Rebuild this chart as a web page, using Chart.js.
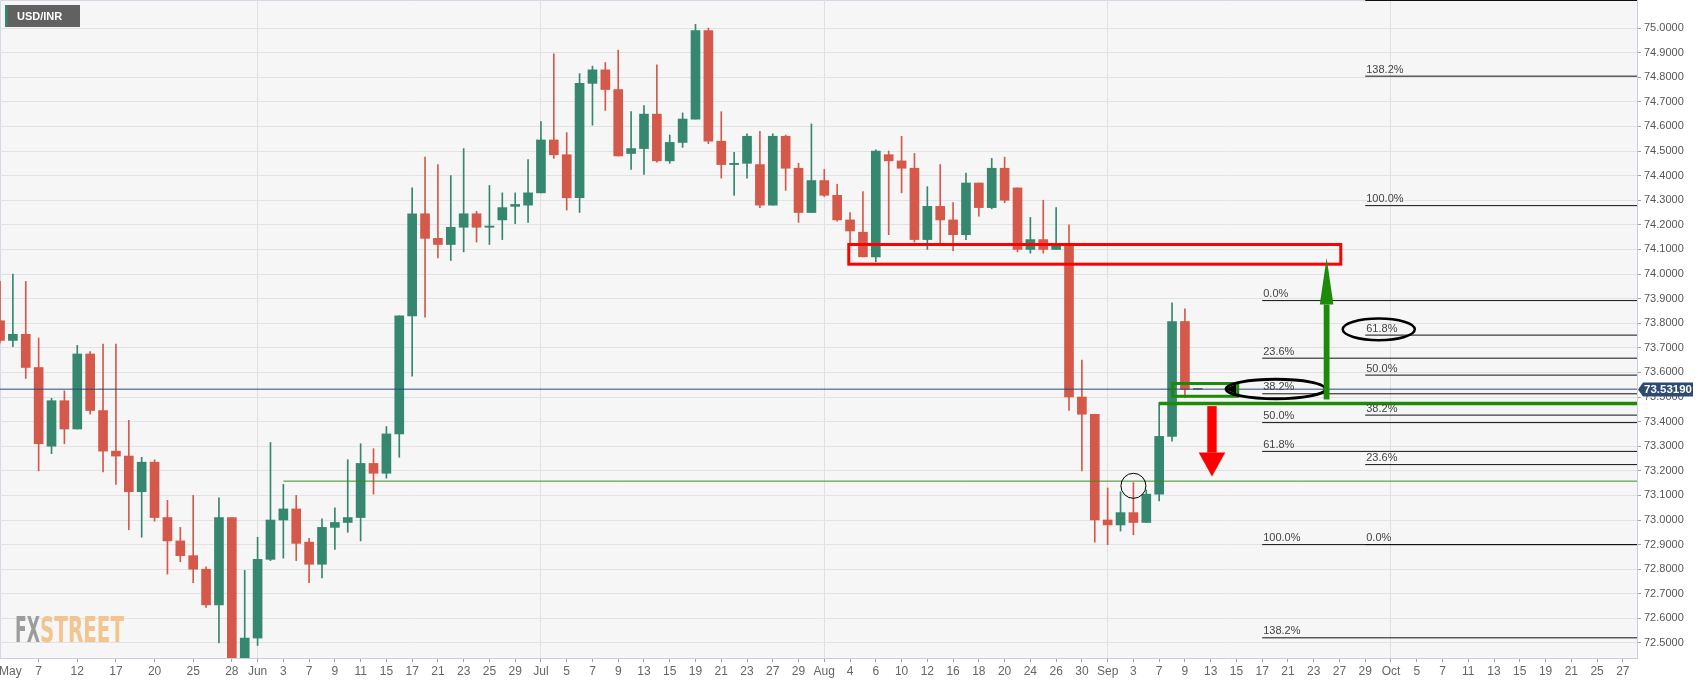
<!DOCTYPE html>
<html>
<head>
<meta charset="utf-8">
<script src="https://cdn.jsdelivr.net/npm/chart.js@4.4.1/dist/chart.umd.min.js"></script>
<style>
    html, body { margin: 0; padding: 0; background: #ffffff; }
    #wrap { position: relative; width: 1707px; height: 687px; }
</style>
</head>
<body>
<div id="wrap"><canvas id="mainChart" width="1707" height="687"></canvas></div>
<script>
// USD/INR daily candles, one per weekday starting 2021-05-04
const firstDay = '2021-05-03';
const lastDay = '2021-10-29';
const candleStart = '2021-05-04';

const opens = [73.81, 73.73, 73.755, 73.62, 73.30, 73.485, 73.37, 73.675, 73.445, 73.28,
    73.26, 73.115, 73.235, 73.01, 72.915, 72.855, 72.80, 72.655, 73.01, 72.41,
    72.52, 72.84, 73.00, 73.045, 72.91, 72.82, 72.97, 72.99, 73.01, 73.23,
    73.19, 73.35, 73.83, 74.245, 74.145, 74.12, 74.19, 74.245, 74.19, 74.22,
    74.275, 74.28, 74.33, 74.545, 74.485, 74.31, 74.775, 74.83, 74.75, 74.49,
    74.51, 74.65, 74.46, 74.535, 74.63, 74.99, 74.54, 74.445, 74.45, 74.445,
    74.28, 74.56, 74.43, 74.25, 74.38, 74.32, 74.22, 74.17, 74.07, 74.485,
    74.46, 74.43, 74.14, 74.275, 74.22, 74.16, 74.37, 74.27, 74.43, 74.35,
    74.10, 74.14, 74.10, 74.125, 73.50, 73.43, 73.00, 72.98, 73.03, 72.99,
    73.105, 73.34, 73.807, 73.531];
const highs = [73.97, 74.00, 73.97, 73.74, 73.495, 73.525, 73.71, 73.685, 73.715, 73.715,
    73.405, 73.255, 73.245, 73.08, 72.97, 73.10, 72.81, 73.09, 73.01, 72.795,
    72.93, 73.315, 73.145, 73.10, 72.925, 73.005, 73.05, 73.245, 73.31, 73.29,
    73.38, 73.83, 74.35, 74.475, 74.445, 74.40, 74.51, 74.255, 74.36, 74.33,
    74.33, 74.465, 74.62, 74.895, 74.575, 74.815, 74.845, 74.86, 74.91, 74.66,
    74.685, 74.85, 74.565, 74.655, 75.015, 75.00, 74.66, 74.495, 74.57, 74.58,
    74.57, 74.565, 74.45, 74.61, 74.425, 74.365, 74.25, 74.335, 74.505, 74.50,
    74.56, 74.49, 74.355, 74.445, 74.29, 74.41, 74.37, 74.47, 74.475, 74.35,
    74.23, 74.30, 74.27, 74.20, 73.65, 73.43, 73.13, 73.115, 73.152, 73.122,
    73.477, 73.883, 73.859, 73.534];
const lows = [73.72, 73.705, 73.575, 73.20, 73.27, 73.31, 73.37, 73.43, 73.195, 73.145,
    72.96, 72.93, 72.995, 72.78, 72.83, 72.745, 72.645, 72.50, 72.38, 72.38,
    72.49, 72.835, 72.845, 72.835, 72.745, 72.765, 72.88, 72.95, 72.915, 73.105,
    73.17, 73.255, 73.585, 73.825, 74.065, 74.055, 74.09, 74.13, 74.12, 74.14,
    74.205, 74.21, 74.33, 74.47, 74.26, 74.25, 74.605, 74.665, 74.48, 74.425,
    74.405, 74.455, 74.45, 74.515, 74.63, 74.53, 74.39, 74.32, 74.39, 74.27,
    74.28, 74.34, 74.21, 74.25, 74.315, 74.215, 74.12, 74.07, 74.05, 74.16,
    74.33, 74.13, 74.10, 74.125, 74.095, 74.14, 74.235, 74.265, 74.29, 74.09,
    74.085, 74.085, 74.10, 73.445, 73.20, 72.91, 72.90, 72.955, 72.94, 72.99,
    73.078, 73.32, 73.497, 73.530];
const closes = [73.73, 73.755, 73.62, 73.31, 73.485, 73.37, 73.675, 73.445, 73.28, 73.26,
    73.115, 73.235, 73.01, 72.915, 72.855, 72.80, 72.655, 73.01, 72.41, 72.52,
    72.84, 73.00, 73.045, 72.905, 72.82, 72.97, 72.99, 73.01, 73.23, 73.19,
    73.35, 73.83, 74.245, 74.145, 74.12, 74.19, 74.245, 74.19, 74.195, 74.27,
    74.283, 74.33, 74.545, 74.485, 74.31, 74.775, 74.83, 74.75, 74.48, 74.51,
    74.65, 74.46, 74.535, 74.63, 74.99, 74.54, 74.445, 74.45, 74.56, 74.28,
    74.56, 74.43, 74.25, 74.38, 74.32, 74.22, 74.175, 74.07, 74.50, 74.46,
    74.43, 74.14, 74.275, 74.22, 74.16, 74.37, 74.27, 74.43, 74.30, 74.10,
    74.14, 74.10, 74.125, 73.50, 73.43, 73.00, 72.98, 73.03, 72.99, 73.105,
    73.34, 73.807, 73.531, 73.532];

// labelled days on the time axis
const tickDays = ['05-03', '05-07', '05-12', '05-17', '05-20', '05-25', '05-28',
    '06-01', '06-03', '06-07', '06-09', '06-11', '06-15', '06-17', '06-21', '06-23', '06-25', '06-29',
    '07-01', '07-05', '07-07', '07-09', '07-13', '07-15', '07-19', '07-21', '07-23', '07-27', '07-29',
    '08-02', '08-04', '08-06', '08-10', '08-12', '08-16', '08-18', '08-20', '08-24', '08-26', '08-30',
    '09-01', '09-03', '09-07', '09-09', '09-13', '09-15', '09-17', '09-21', '09-23', '09-27', '09-29',
    '10-01', '10-05', '10-07', '10-11', '10-13', '10-15', '10-19', '10-21', '10-25', '10-27'];
const monthNames = ['Jan', 'Feb', 'Mar', 'Apr', 'May', 'Jun', 'Jul', 'Aug', 'Sep', 'Oct', 'Nov', 'Dec'];
const priceTicks = Array.from({ length: 26 }, (_, i) => +(72.5 + i * 0.1).toFixed(1));

const lastPrice = 73.5319;

// drawn studies
const supportLine = ['2021-06-03', 73.158];
const breakLine = ['2021-09-07', 73.474];
const resistZone = ['2021-08-04', -0.1, '2021-09-27', 0.1, 74.04, 74.12];
const flagBox = ['2021-09-08', 0.05, '2021-09-15', 0.1, 73.503, 73.555];
const fibLevels = [0, 23.6, 38.2, 50, 61.8, 100, 138.2, 161.8];
const fibDown = ['2021-09-17', 73.892, 72.90];   // 0% at first price
const fibUp = ['2021-09-29', 72.90, 74.278];
const downArrow = ['2021-09-13', 0.1, 73.463, 73.274, 73.177];
const upArrow = ['2021-09-24', 0, 73.49, 73.876, 74.066];
const ringMark = ['2021-09-03', 73.139];
const ovalA = ['2021-09-14', 0.2, '2021-09-24', -0.1, 73.493, 73.572];
const ovalB = ['2021-09-27', 0.25, '2021-10-01', 1.85, 73.731, 73.819];

const upColor = '#35876f';
const downColor = '#d5594a';

// weekday calendar
const days = [];
for (let d = new Date(firstDay + 'T00:00:00Z'); d <= new Date(lastDay + 'T00:00:00Z'); d.setUTCDate(d.getUTCDate() + 1)) {
    const wd = d.getUTCDay();
    if (wd !== 0 && wd !== 6) days.push(d.toISOString().slice(0, 10));
}
const dayIndex = s => days.indexOf(s.length === 5 ? '2021-' + s : s);
const startIdx = dayIndex(candleStart);

const tickText = tickDays.map((d, i) => {
    const m = +d.slice(0, 2);
    if (i === 0 || +tickDays[i - 1].slice(0, 2) !== m) return monthNames[m - 1];
    return String(+d.slice(3));
});

const bodies = opens.map((o, i) => ({ x: startIdx + i, y: [o, closes[i]] }));
const wicks = opens.map((o, i) => ({ x: startIdx + i, y: [lows[i], highs[i]] }));
const candleColors = opens.map((o, i) => closes[i] >= o ? upColor : downColor);

const overlay = {
    id: 'overlay',
    beforeDraw(chart) {
        const { ctx, chartArea: a } = chart;
        ctx.save();
        ctx.fillStyle = '#f6f6f6';
        ctx.fillRect(a.left, a.top, a.right - a.left, a.bottom - a.top);
        ctx.strokeStyle = '#d3d8e6';
        ctx.lineWidth = 1;
        ctx.beginPath();
        ctx.moveTo(a.left + 0.5, a.bottom);
        ctx.lineTo(a.left + 0.5, a.top + 0.5);
        ctx.lineTo(a.right, a.top + 0.5);
        ctx.stroke();
        ctx.restore();
    },
    beforeDatasetsDraw(chart) {
        const { ctx, chartArea: a } = chart;
        ctx.save();
        ctx.textBaseline = 'alphabetic';
        ctx.font = 'bold 36px "Liberation Sans Narrow", "DejaVu Sans Condensed", Arial';
        const base = a.bottom - 16;
        ctx.fillStyle = '#9c9c9c';
        ctx.fillText('FX', a.left + 15, base, 25);
        ctx.fillStyle = '#f2c48e';
        ctx.fillText('STREET', a.left + 40, base, 84);
        ctx.restore();
    },
    afterDatasetsDraw(chart) {
        const { ctx, chartArea: a, scales: { x, y } } = chart;
        const px = (d, s) => x.getPixelForValue(dayIndex(d) + (s || 0));
        ctx.save();
        ctx.beginPath();
        ctx.rect(a.left, a.top, a.right - a.left, a.bottom - a.top);
        ctx.clip();

        const hLine = (x0, v, color, w) => {
            const yy = Math.max(y.getPixelForValue(v), a.top + 0.5);
            ctx.strokeStyle = color;
            ctx.lineWidth = w;
            ctx.beginPath();
            ctx.moveTo(x0, yy);
            ctx.lineTo(a.right, yy);
            ctx.stroke();
            return yy;
        };

        // last price
        hLine(a.left, lastPrice, '#2b4a78', 1);
        // support and breakout lines
        hLine(px(supportLine[0]), supportLine[1], '#3c8c1c', 1);
        hLine(px(breakLine[0]), breakLine[1], '#1e8a0a', 3.5);

        // fibonacci sets
        ctx.font = '11px Arial';
        ctx.textBaseline = 'bottom';
        const drawFib = set => {
            const x0 = px(set[0]);
            fibLevels.forEach(p => {
                const v = set[1] + (set[2] - set[1]) * p / 100;
                const yy = hLine(x0, v, '#111111', 1);
                if (y.getPixelForValue(v) > a.top + 12) {
                    ctx.fillStyle = '#444444';
                    ctx.fillText(p.toFixed(1) + '%', x0 + 1, yy - 1);
                }
            });
        };
        drawFib(fibDown);
        drawFib(fibUp);

        // resistance zone
        ctx.strokeStyle = '#ff0000';
        ctx.lineWidth = 3;
        let x1 = px(resistZone[0], resistZone[1]), x2 = px(resistZone[2], resistZone[3]);
        let y1 = y.getPixelForValue(resistZone[5]), y2 = y.getPixelForValue(resistZone[4]);
        ctx.strokeRect(x1, y1, x2 - x1, y2 - y1);

        // flag box
        ctx.strokeStyle = '#1e8a0a';
        x1 = px(flagBox[0], flagBox[1]); x2 = px(flagBox[2], flagBox[3]);
        y1 = y.getPixelForValue(flagBox[5]); y2 = y.getPixelForValue(flagBox[4]);
        ctx.strokeRect(x1, y1, x2 - x1, y2 - y1);

        // ovals
        const oval = (o, w) => {
            const l = px(o[0], o[1]), r = px(o[2], o[3]);
            const t = y.getPixelForValue(o[5]), b = y.getPixelForValue(o[4]);
            ctx.strokeStyle = '#000000';
            ctx.lineWidth = w;
            ctx.beginPath();
            ctx.ellipse((l + r) / 2, (t + b) / 2, (r - l) / 2, (b - t) / 2, 0, 0, Math.PI * 2);
            ctx.stroke();
            return [l, (t + b) / 2];
        };
        const [ol, oy] = oval(ovalA, 3);
        ctx.fillStyle = '#000000';
        ctx.beginPath();
        ctx.moveTo(ol - 1, oy);
        ctx.lineTo(ol + 10, oy - 5);
        ctx.lineTo(ol + 10, oy + 5);
        ctx.closePath();
        ctx.fill();
        oval(ovalB, 2.5);

        // ring on the test candle
        ctx.lineWidth = 1;
        ctx.beginPath();
        ctx.arc(px(ringMark[0]), y.getPixelForValue(ringMark[1]), 12.5, 0, Math.PI * 2);
        ctx.stroke();

        // arrows
        const arrow = (ar, color, shaft, head) => {
            const cx = px(ar[0], ar[1]);
            const ys = y.getPixelForValue(ar[2]), yh = y.getPixelForValue(ar[3]), yt = y.getPixelForValue(ar[4]);
            ctx.fillStyle = color;
            ctx.fillRect(cx - shaft, Math.min(ys, yh), shaft * 2, Math.abs(yh - ys));
            ctx.beginPath();
            ctx.moveTo(cx - head, yh);
            ctx.lineTo(cx + head, yh);
            ctx.lineTo(cx, yt);
            ctx.closePath();
            ctx.fill();
        };
        arrow(downArrow, '#ff0000', 4.7, 13.3);
        arrow(upArrow, '#1e8a0a', 2.9, 6.8);

        ctx.restore();
    },
    afterDraw(chart) {
        const { ctx, chartArea: a, scales: { y } } = chart;
        ctx.save();
        // last price tag with a small pointer
        const py = Math.round(y.getPixelForValue(lastPrice)) + 0.5;
        const bx = a.right + 6, bw = 50, bh = 14;
        ctx.fillStyle = '#2c4a72';
        ctx.beginPath();
        ctx.moveTo(a.right + 1, py);
        ctx.lineTo(bx, py - bh / 2);
        ctx.lineTo(bx + bw, py - bh / 2);
        ctx.lineTo(bx + bw, py + bh / 2);
        ctx.lineTo(bx, py + bh / 2);
        ctx.closePath();
        ctx.fill();
        ctx.fillStyle = '#ffffff';
        ctx.font = 'bold 11.5px Arial';
        ctx.textBaseline = 'middle';
        ctx.fillText(lastPrice.toFixed(5), bx + 1, py + 0.5, bw - 2);
        // symbol tag
        ctx.fillStyle = '#616161';
        ctx.fillRect(5, 5, 75, 22);
        ctx.fillStyle = '#2f8b6f';
        ctx.fillRect(5, 5, 2.5, 22);
        ctx.fillStyle = '#ffffff';
        ctx.font = 'bold 11px Arial';
        ctx.fillText('USD/INR', 17, 16.5);
        ctx.restore();
    }
};

new Chart(document.getElementById('mainChart'), {
    type: 'bar',
    data: {
        datasets: [{
            label: 'Body',
            data: bodies,
            backgroundColor: candleColors,
            barThickness: 9,
            minBarLength: 1,
            grouped: false,
            order: 0
        }, {
            label: 'Wick',
            data: wicks,
            backgroundColor: candleColors,
            barThickness: 1,
            grouped: false,
            order: 1
        }]
    },
    options: {
        responsive: false,
        devicePixelRatio: 1,
        animation: false,
        layout: { padding: 0 },
        plugins: {
            legend: { display: false },
            tooltip: { enabled: false }
        },
        scales: {
            x: {
                type: 'linear',
                offset: false,
                min: startIdx,
                max: dayIndex('2021-10-28') + 0.1,
                afterBuildTicks: s => {
                    s.ticks = tickDays.map(d => ({ value: Math.max(dayIndex(d), s.min + 0.8) }));
                },
                afterFit: s => { s.height = 29; s.paddingLeft = 0; s.paddingRight = 0; },
                ticks: {
                    autoSkip: false,
                    maxRotation: 0,
                    padding: 2,
                    color: '#666666',
                    font: { family: 'Arial', size: 12 },
                    callback: (v, i) => tickText[i]
                },
                grid: {
                    offset: false,
                    color: c => (c.index > 0 && /[A-Z]/.test(tickText[c.index] || '')) ? '#e0e0e0' : 'rgba(0,0,0,0)',
                    tickColor: c => c.index > 0 ? '#9aa0b0' : 'rgba(0,0,0,0)',
                    tickLength: 4
                },
                border: { color: '#c9cfe0' }
            },
            y: {
                position: 'right',
                min: 72.439,
                max: 75.114,
                afterBuildTicks: s => { s.ticks = priceTicks.map(v => ({ value: v })); },
                afterFit: s => { s.width = 70; s.paddingTop = 0; s.paddingBottom = 0; },
                ticks: {
                    padding: 3,
                    color: '#555555',
                    font: { family: 'Arial', size: 11 },
                    callback: v => v.toFixed(4)
                },
                grid: { color: '#e2e2e2', tickColor: '#9aa0b0', tickLength: 4 },
                border: { color: '#c9cfe0' }
            }
        }
    },
    plugins: [overlay]
});
</script>
</body>
</html>
